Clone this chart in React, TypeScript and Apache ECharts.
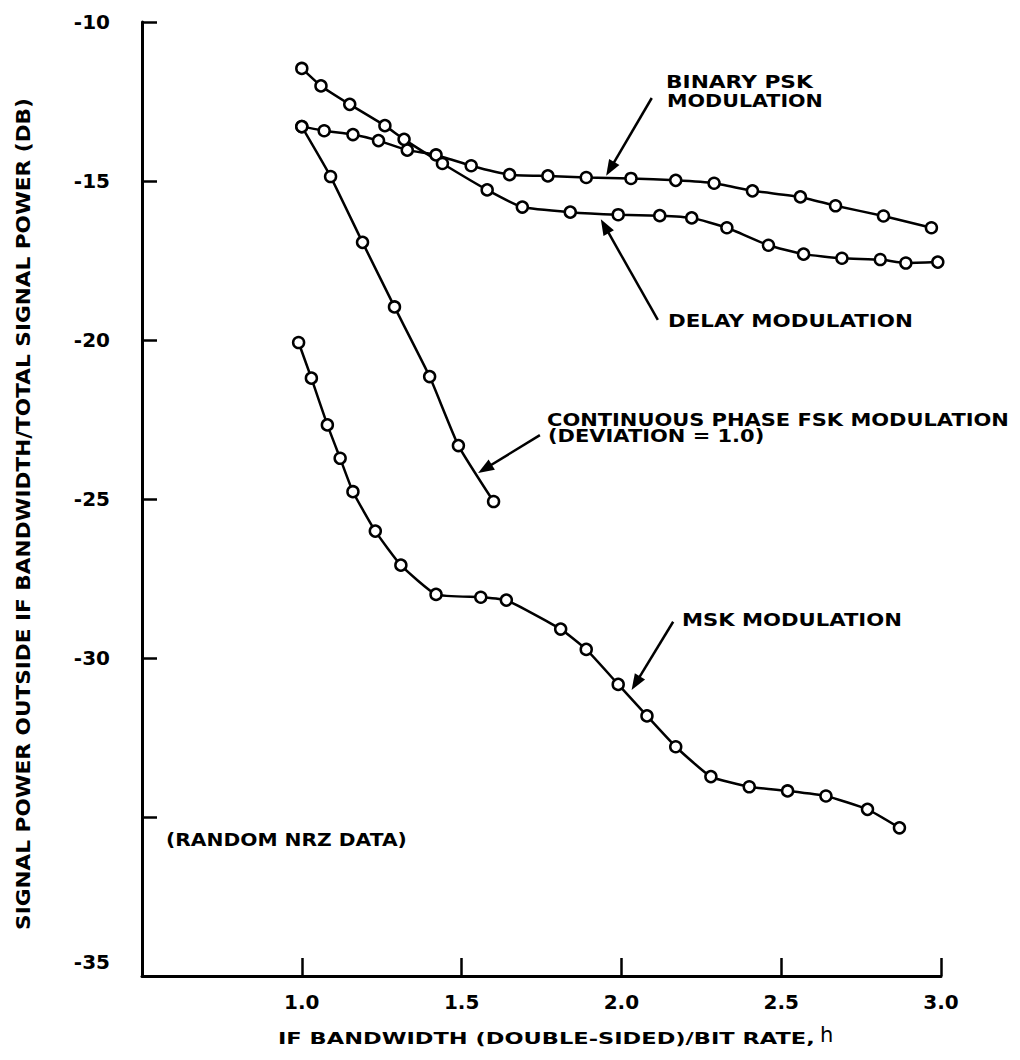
import React, { useEffect, useRef } from "react";
import * as echarts from "echarts";

// IF bandwidth (double-sided) / bit rate, h
const bpskH = [1.0, 1.07, 1.16, 1.24, 1.33, 1.42, 1.53, 1.65, 1.77, 1.89, 2.03, 2.17, 2.29, 2.41, 2.56, 2.67, 2.82, 2.97];
// Signal power outside IF bandwidth / total signal power (dB)
const bpskDb = [-13.29, -13.42, -13.54, -13.73, -14.03, -14.18, -14.52, -14.8, -14.84, -14.89, -14.92, -14.98, -15.07, -15.31, -15.5, -15.78, -16.1, -16.47];

const delayH = [1.0, 1.06, 1.15, 1.26, 1.32, 1.44, 1.58, 1.69, 1.84, 1.99, 2.12, 2.22, 2.33, 2.46, 2.57, 2.69, 2.81, 2.89, 2.99];
const delayDb = [-11.46, -12.01, -12.59, -13.26, -13.69, -14.45, -15.28, -15.82, -15.98, -16.06, -16.09, -16.16, -16.47, -17.02, -17.3, -17.43, -17.47, -17.58, -17.55];

const cpfskH = [1.0, 1.09, 1.19, 1.29, 1.4, 1.49, 1.6];
const cpfskDb = [-13.29, -14.86, -16.93, -18.96, -21.15, -23.32, -25.08];

const mskH = [0.99, 1.03, 1.08, 1.12, 1.16, 1.23, 1.31, 1.42, 1.56, 1.64, 1.81, 1.89, 1.99, 2.08, 2.17, 2.28, 2.4, 2.52, 2.64, 2.77, 2.87];
const mskDb = [-20.08, -21.2, -22.67, -23.72, -24.77, -26.01, -27.08, -28.0, -28.09, -28.18, -29.09, -29.73, -30.83, -31.82, -32.79, -33.73, -34.05, -34.18, -34.34, -34.76, -35.34];

// Pointer arrows: [tail, head] in (h, dB)
const bpskArrow = [[2.095, -12.39], [1.965, -14.62]];
const delayArrow = [[2.114, -19.37], [1.948, -16.42]];
const cpfskArrow = [[1.745, -22.99], [1.573, -24.05]];
const mskArrow = [[2.162, -28.86], [2.045, -30.79]];

// Axis ticks
const xMin = 0.5;
const xMax = 3.0;
const xStep = 0.5;
const yMin = -40;
const yMax = -10;
const yStep = 5;

const FAMILY = '"DejaVu Sans", sans-serif';

let measureCtx: CanvasRenderingContext2D | null = null;
function textWidth(text: string, size: number, weight: string) {
  if (!measureCtx) measureCtx = document.createElement("canvas").getContext("2d");
  measureCtx!.font = `${weight} ${size}px "DejaVu Sans"`;
  return measureCtx!.measureText(text).width;
}

function stretchText(text: string, size: number, weight: string, width: number) {
  return width / textWidth(text, size, weight);
}

function textEl(text: string, x: number, y: number, size: number, scaleX: number, opts: any = {}) {
  const weight = opts.weight || "bold";
  const align = opts.align || "left";
  return {
    type: "text",
    x,
    y,
    scaleX,
    scaleY: opts.scaleY || 1,
    rotation: opts.rotation || 0,
    silent: true,
    z: 10,
    style: {
      text,
      fill: "#000",
      fontSize: size,
      fontFamily: FAMILY,
      fontWeight: weight,
      textAlign: align,
      textVerticalAlign: "middle",
      align,
      verticalAlign: "middle",
    },
  };
}

function pairs(xs: number[], ys: number[]) {
  return xs.map((x, i) => [x, ys[i]]);
}

function curve(name: string, xs: number[], ys: number[], arrow: number[][]) {
  return {
    type: "line",
    name,
    data: pairs(xs, ys),
    smooth: 0.15,
    symbol: "circle",
    symbolSize: 11,
    showAllSymbol: true,
    lineStyle: { color: "#000", width: 2.5 },
    itemStyle: { color: "#fff", borderColor: "#000", borderWidth: 2.5 },
    emphasis: { disabled: true },
    z: 3,
    markLine: {
      silent: true,
      symbol: ["none", "triangle"],
      symbolSize: [12, 16],
      lineStyle: { color: "#000", width: 2.5, type: "solid" },
      itemStyle: { color: "#000" },
      label: { show: false },
      emphasis: { disabled: true },
      data: [[{ coord: arrow[0] }, { coord: arrow[1] }]],
    },
  };
}

export default function App() {
  const ref = useRef<HTMLDivElement>(null);

  useEffect(() => {
    if (!ref.current) return;
    document.body.style.margin = "0";
    const chart = echarts.init(ref.current, null, { renderer: "svg" });

    const S = 18;
    const cpScale = stretchText("CONTINUOUS PHASE FSK MODULATION", S, "bold", 462);
    const graphics = [
      textEl("BINARY PSK", 666, 82, S, stretchText("BINARY PSK", S, "bold", 147)),
      textEl("MODULATION", 667, 101, S, stretchText("MODULATION", S, "bold", 156)),
      textEl("DELAY MODULATION", 668, 321, S, stretchText("DELAY MODULATION", S, "bold", 245)),
      textEl("CONTINUOUS PHASE FSK MODULATION", 547, 420, S, cpScale),
      textEl("(DEVIATION = 1.0)", 548, 436, S, cpScale),
      textEl("MSK MODULATION", 682, 620, S, stretchText("MSK MODULATION", S, "bold", 220)),
      textEl("(RANDOM NRZ DATA)", 166, 840, S, stretchText("(RANDOM NRZ DATA)", S, "bold", 241)),
      textEl(
        "SIGNAL POWER OUTSIDE IF BANDWIDTH/TOTAL SIGNAL POWER (DB)",
        23,
        514,
        19,
        stretchText("SIGNAL POWER OUTSIDE IF BANDWIDTH/TOTAL SIGNAL POWER (DB)", 19, "bold", 832),
        { align: "center", rotation: Math.PI / 2 }
      ),
      textEl(
        "IF BANDWIDTH (DOUBLE-SIDED)/BIT RATE,",
        278,
        1039,
        16,
        stretchText("IF BANDWIDTH (DOUBLE-SIDED)/BIT RATE,", 16, "bold", 537)
      ),
      textEl("h", 820, 1035, 21, 1, { weight: "normal" }),
    ];

    const labelStyle = {
      color: "#000",
      fontFamily: FAMILY,
      fontWeight: "bold",
      fontSize: 20,
    };

    chart.setOption({
      animation: false,
      backgroundColor: "#fff",
      tooltip: { show: false },
      grid: { left: 142, right: 79, top: 22, bottom: 84, containLabel: false, outerBoundsMode: "none" },
      xAxis: {
        type: "value",
        min: xMin,
        max: xMax,
        interval: xStep,
        axisLine: { onZero: false, lineStyle: { color: "#000", width: 3 } },
        axisTick: { inside: true, length: 18, lineStyle: { color: "#000", width: 2.5 } },
        splitLine: { show: false },
        axisLabel: {
          ...labelStyle,
          margin: 16,
          formatter: (v: number) => (Math.abs(v - xMin) < 1e-9 ? "" : v.toFixed(1)),
        },
      },
      yAxis: {
        type: "value",
        min: yMin,
        max: yMax,
        interval: yStep,
        axisLine: { onZero: false, lineStyle: { color: "#000", width: 3 } },
        axisTick: { inside: true, length: 15, lineStyle: { color: "#000", width: 2.5 } },
        splitLine: { show: false },
        axisLabel: {
          ...labelStyle,
          margin: 32,
          formatter: (v: number) => {
            if (v === yMin) return "{low|-35}";
            if (v === -35) return "";
            return String(v);
          },
          rich: {
            low: { ...labelStyle, padding: [0, 0, 28, 0] },
          },
        },
      },
      series: [
        curve("BINARY PSK MODULATION", bpskH, bpskDb, bpskArrow),
        curve("DELAY MODULATION", delayH, delayDb, delayArrow),
        curve("CONTINUOUS PHASE FSK MODULATION", cpfskH, cpfskDb, cpfskArrow),
        curve("MSK MODULATION", mskH, mskDb, mskArrow),
      ],
      graphic: graphics,
    });

    return () => chart.dispose();
  }, []);

  return (
    <div style={{ position: "fixed", left: 0, top: 0, width: 1020, height: 1060, background: "#fff" }}>
      <div ref={ref} style={{ width: 1020, height: 1060 }} />
    </div>
  );
}
